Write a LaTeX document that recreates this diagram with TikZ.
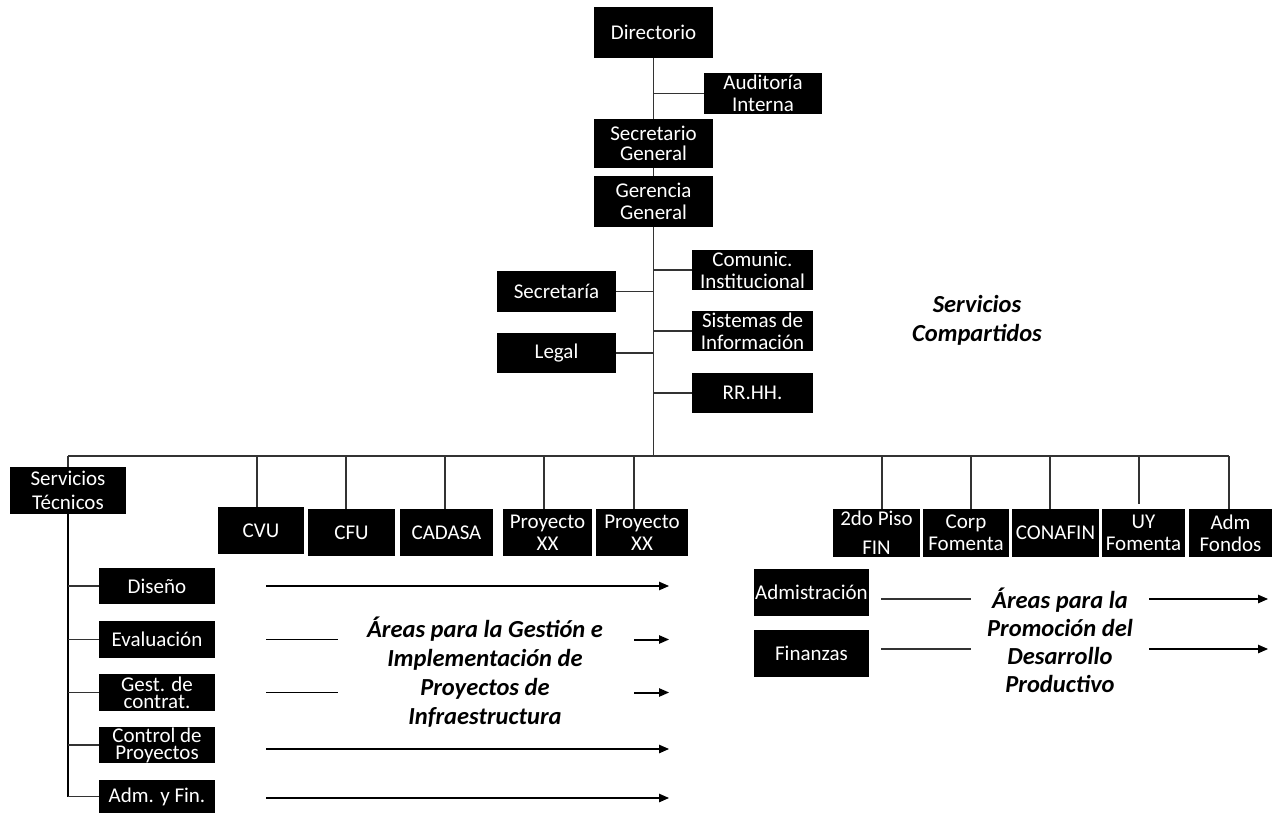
\documentclass[tikz,border=0pt]{standalone}
\usepackage{fontspec}
\setmainfont{Carlito}
\usetikzlibrary{arrows.meta}
\begin{document}
\begin{tikzpicture}[x=1pt,y=-1pt,
  box/.style={fill=black,text=white,inner sep=0pt,align=center,font=\fontsize{21}{22}\selectfont},
  conn/.style={draw=black!80,line width=1.3pt},
  trunkline/.style={draw=black,line width=2pt},
  arr/.style={draw=black,line width=2pt,-{Triangle[length=10pt,width=8pt]}},
  plainline/.style={draw=black,line width=1.8pt},
  area/.style={align=center,text=black,font=\fontsize{24.5}{29}\selectfont\bfseries\itshape}]
\fill[white] (0,0) rectangle (1280,814);
\useasboundingbox (0,0) rectangle (1280,814);

% top chain
\node[box,minimum width=119pt,minimum height=51pt] (dir) at (653.5,32.5) {Directorio};
\node[box,minimum width=118pt,minimum height=41pt] (aud) at (763,93.5) {Auditoría\\Interna};
\node[box,minimum width=119pt,minimum height=49pt,font=\fontsize{21}{19.5}\selectfont] (sec) at (653.5,143.5) {Secretario\\General};
\node[box,minimum width=119pt,minimum height=51pt] (ger) at (653.5,201.5) {Gerencia\\General};

% staff units
\node[box,minimum width=121pt,minimum height=40pt] (com) at (752.5,270) {Comunic.\\Institucional};
\node[box,minimum width=119pt,minimum height=41pt] (scr) at (556.5,291.5) {Secretaría};
\node[box,minimum width=121pt,minimum height=40pt] (sis) at (752.5,331) {Sistemas de\\Información};
\node[box,minimum width=119pt,minimum height=40pt] (leg) at (556.5,353) {Legal};
\node[box,minimum width=121pt,minimum height=40pt] (rrhh) at (752.5,393) {RR.HH.};

% second level
\node[box,minimum width=116pt,minimum height=47pt,font=\fontsize{21}{24}\selectfont] (st) at (68,490.5) {Servicios\\Técnicos};
\node[box,minimum width=86pt,minimum height=47pt] (cvu) at (261,530.5) {CVU};
\node[box,minimum width=87pt,minimum height=47pt] (cfu) at (351.5,532.5) {CFU};
\node[box,minimum width=93pt,minimum height=47pt] (cad) at (446.5,532.5) {CADASA};
\node[box,minimum width=89pt,minimum height=47pt] (px1) at (547.5,532.5) {Proyecto\\XX};
\node[box,minimum width=92pt,minimum height=47pt] (px2) at (642,532.5) {Proyecto\\XX};

\node[box,minimum width=87pt,minimum height=48pt,font=\fontsize{21}{29}\selectfont] (fin2) at (876.5,533) {2do Piso\\FIN};
\node[box,minimum width=86pt,minimum height=48pt] (corp) at (966,533) {Corp\\Fomenta};
\node[box,minimum width=87pt,minimum height=48pt] (conaf) at (1055.5,533) {CONAFIN};
\node[box,minimum width=83pt,minimum height=48pt] (uy) at (1143.5,533) {UY\\Fomenta};
\node[box,minimum width=83pt,minimum height=48pt] (adm) at (1230.5,533) {Adm\\Fondos};

% technical services sub units
\node[box,minimum width=116pt,minimum height=36pt] (dis) at (157,586) {Diseño};
\node[box,minimum width=116pt,minimum height=37pt] (eva) at (157,639.5) {Evaluación};
\node[box,minimum width=116pt,minimum height=37pt,font=\fontsize{21}{17}\selectfont] (gest) at (157,692.5) {Gest. de\\contrat.};
\node[box,minimum width=116pt,minimum height=36pt,font=\fontsize{21}{17}\selectfont] (ctrl) at (157,745) {Control de\\Proyectos};
\node[box,minimum width=116pt,minimum height=33pt] (admf) at (157,796.5) {Adm. y Fin.};

% productive development units
\node[box,minimum width=115pt,minimum height=47pt] (admin) at (811.5,592.5) {Admistración};
\node[box,minimum width=115pt,minimum height=47pt] (finz) at (811.5,653.5) {Finanzas};

% area labels
\node[area] (scomp) at (977,320) {Servicios\\Compartidos};
\node[area] (infra) at (485,672) {Áreas para la Gestión e\\Implementación de\\Proyectos de\\Infraestructura};
\node[area,font=\fontsize{24.5}{28}\selectfont\bfseries\itshape] (prom) at (1060,640) {Áreas para la\\Promoción del\\Desarrollo\\Productivo};

% main trunk
\coordinate (busL) at (68,456);
\coordinate (busR) at (1229,456);
\draw[conn] (dir.south) -- (sec.north);
\draw[conn] (sec.south) -- (ger.north);
\draw[conn] (ger.south) -- (ger.south |- busL);
\draw[conn] (busL) -- (busR);
\draw[conn] (aud.west) -- (aud.west -| dir.south);
\draw[conn] (com.west) -- (com.west -| ger.south);
\draw[conn] (sis.west) -- (sis.west -| ger.south);
\draw[conn] (rrhh.west) -- (rrhh.west -| ger.south);
\draw[conn] (scr.east) -- (scr.east -| ger.south);
\draw[conn] (leg.east) -- (leg.east -| ger.south);

% drops
\draw[conn] (st.north) -- (busL);
\draw[conn] ([xshift=-4pt]cvu.north) -- ([xshift=-4pt]cvu.north |- busL);
\draw[conn] ([xshift=-5.5pt]cfu.north) -- ([xshift=-5.5pt]cfu.north |- busL);
\draw[conn] ([xshift=-1.5pt]cad.north) -- ([xshift=-1.5pt]cad.north |- busL);
\draw[conn] ([xshift=-3.5pt]px1.north) -- ([xshift=-3.5pt]px1.north |- busL);
\draw[conn] ([xshift=-8pt]px2.north) -- ([xshift=-8pt]px2.north |- busL);
\draw[conn] ([xshift=5.5pt]fin2.north) -- ([xshift=5.5pt]fin2.north |- busL);
\draw[conn] ([xshift=5pt]corp.north) -- ([xshift=5pt]corp.north |- busL);
\draw[conn] ([xshift=-5.5pt]conaf.north) -- ([xshift=-5.5pt]conaf.north |- busL);
\draw[conn] ([xshift=-4.5pt,yshift=5pt]uy.north) -- ([xshift=-4.5pt]uy.north |- busL);
\draw[conn] ([xshift=-1.5pt]adm.north) -- (busR);

% technical services trunk
\draw[trunkline] (st.south) -- (st.south |- admf.west);
\foreach \n in {dis,eva,gest,ctrl,admf}{
  \draw[conn] (\n.west) -- (\n.west -| st.south);
}

% arrows, infrastructure
\draw[arr] ([xshift=51pt]dis.east) -- ([xshift=454pt]dis.east);
\draw[plainline] ([xshift=51pt]eva.east) -- ([xshift=123pt]eva.east);
\draw[arr] ([xshift=419pt]eva.east) -- ([xshift=454pt]eva.east);
\draw[plainline] ([xshift=51pt]gest.east) -- ([xshift=123pt]gest.east);
\draw[arr] ([xshift=419pt]gest.east) -- ([xshift=454pt]gest.east);
\draw[arr] ([xshift=51pt,yshift=-4pt]ctrl.east) -- ([xshift=454pt,yshift=-4pt]ctrl.east);
\draw[arr] ([xshift=51pt,yshift=-1.5pt]admf.east) -- ([xshift=454pt,yshift=-1.5pt]admf.east);

% arrows, productive development
\draw[conn] ([xshift=12pt,yshift=-6.5pt]admin.east) -- ([xshift=102pt,yshift=-6.5pt]admin.east);
\draw[arr] ([xshift=280pt,yshift=-6.5pt]admin.east) -- ([xshift=399pt,yshift=-6.5pt]admin.east);
\draw[conn] ([xshift=12pt,yshift=4.5pt]finz.east) -- ([xshift=102pt,yshift=4.5pt]finz.east);
\draw[arr] ([xshift=280pt,yshift=4.5pt]finz.east) -- ([xshift=399pt,yshift=4.5pt]finz.east);
\end{tikzpicture}
\end{document}
